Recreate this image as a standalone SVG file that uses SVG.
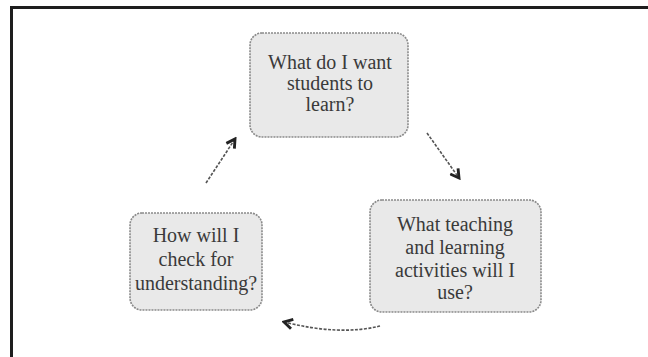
<svg xmlns="http://www.w3.org/2000/svg" width="648" height="357" viewBox="0 0 648 357">
<defs>
<style>
.node rect{fill:#e9e9e9;stroke:#8a8a8a;stroke-width:1.6;stroke-dasharray:2 1}
.node text{font-family:"Liberation Serif","Times New Roman",serif;font-size:20px;fill:#3a3a3a;text-anchor:middle}
.conn path{fill:none;stroke:#555;stroke-width:1.6;stroke-dasharray:3 1.5}
</style>
<marker id="ah" viewBox="0 0 10 10" refX="8" refY="5" markerWidth="12" markerHeight="12" orient="auto" markerUnits="userSpaceOnUse">
<path d="M1,1 L8,5 L1,9" fill="none" stroke="#222" stroke-width="2.4"/>
</marker>
</defs>
<rect x="0" y="0" width="648" height="357" fill="#fff"/>
<path d="M11.5,360 L11.5,7.5 L652,7.5" fill="none" stroke="#1e1e1e" stroke-width="3"/>
<g id="node-learn" class="node">
<rect x="250" y="33" width="158" height="104" rx="12"/>
<text x="330" y="69">What do I want</text>
<text x="330" y="90">students to</text>
<text x="330" y="111">learn?</text>
</g>
<g id="node-activities" class="node">
<rect x="370" y="200" width="171" height="112" rx="12"/>
<text x="455" y="231">What teaching</text>
<text x="455" y="254">and learning</text>
<text x="455" y="277">activities will I</text>
<text x="455" y="299">use?</text>
</g>
<g id="node-check" class="node">
<rect x="130" y="213" width="132" height="97" rx="12"/>
<text x="196" y="242">How will I</text>
<text x="196" y="266">check for</text>
<text x="196" y="290">understanding?</text>
</g>
<g id="connectors" class="conn">
<path d="M427,133 L459,178" marker-end="url(#ah)"/>
<path d="M380,326 Q340,336 284,322" marker-end="url(#ah)"/>
<path d="M206,183 L235,139" marker-end="url(#ah)"/>
</g>
</svg>
